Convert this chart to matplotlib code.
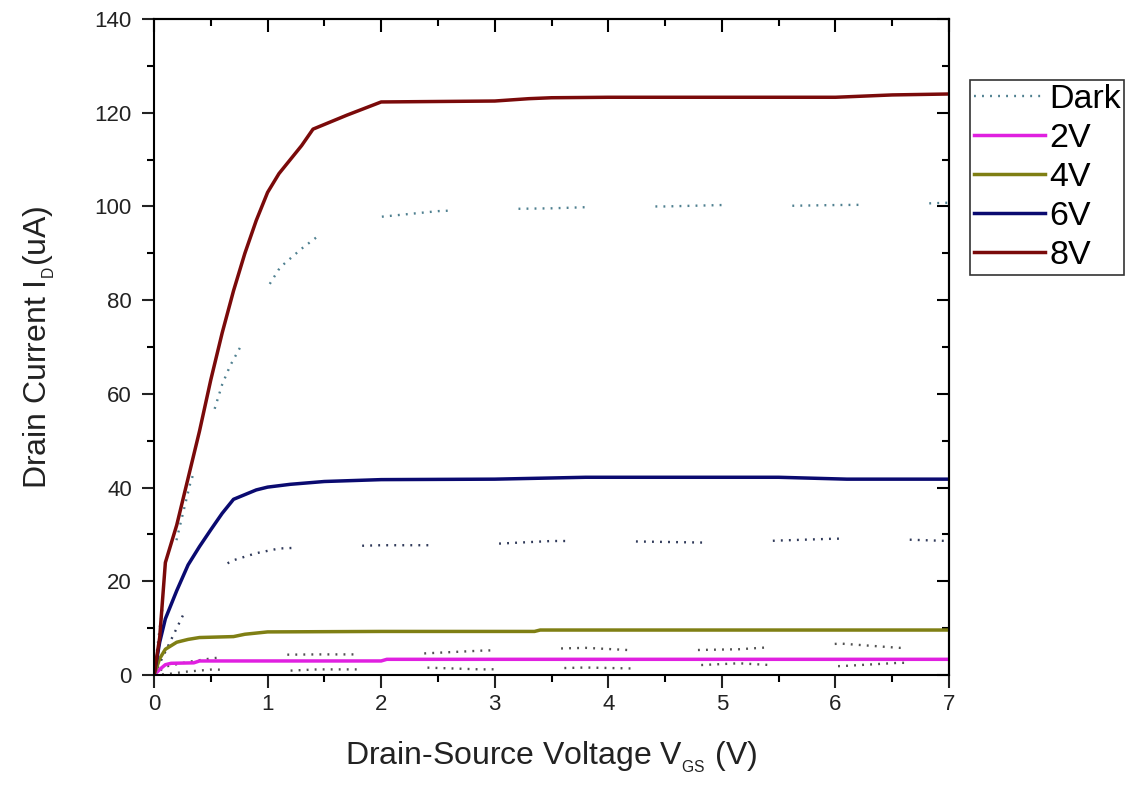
import numpy as np
import matplotlib.pyplot as plt

plt.rcParams['font.family'] = ['Liberation Sans', 'DejaVu Sans']
plt.rcParams['mathtext.fontset'] = 'custom'
plt.rcParams['mathtext.rm'] = 'Liberation Sans'
plt.rcParams['mathtext.it'] = 'Liberation Sans'

# curvas sob iluminação (Vgs = 2, 4, 6, 8 V)
v_2v = [0, 0.05, 0.1, 0.15, 0.35, 0.4, 2.0, 2.05, 7]
i_2v = [0, 1.2, 2.2, 2.5, 2.6, 3.0, 3.0, 3.35, 3.35]

v_4v = [0, 0.05, 0.1, 0.2, 0.3, 0.4, 0.7, 0.8, 1.0, 2.0, 3.35, 3.4, 7]
i_4v = [0, 3.5, 5.5, 7.0, 7.6, 8.0, 8.2, 8.7, 9.2, 9.3, 9.3, 9.6, 9.6]

v_6v = [0, 0.05, 0.1, 0.2, 0.3, 0.4, 0.5, 0.6, 0.7, 0.8, 0.9, 1.0, 1.2, 1.5,
        2.0, 3.0, 3.8, 4.5, 5.5, 6.1, 7]
i_6v = [0, 7, 12, 18, 23.5, 27.4, 31, 34.5, 37.5, 38.5, 39.5, 40.1, 40.7, 41.3,
        41.7, 41.8, 42.2, 42.2, 42.2, 41.8, 41.8]

v_8v = [0, 0.05, 0.1, 0.15, 0.2, 0.3, 0.4, 0.5, 0.6, 0.7, 0.8, 0.9, 1.0, 1.1,
        1.2, 1.3, 1.4, 1.5, 1.7, 2.0, 2.5, 3.0, 3.3, 3.5, 4, 5, 6, 6.5, 7]
i_8v = [0, 8, 24, 28, 32, 42, 52, 63, 73, 82, 90, 97, 103, 107,
        110, 113, 116.5, 117.5, 119.5, 122.3, 122.4, 122.5, 123, 123.2, 123.3,
        123.3, 123.3, 123.8, 124]

# curvas no escuro
v_d2 = [0, 0.12, 0.28, 0.52, 0.98, 1.44, 1.95, 2.37, 2.88, 3.3, 3.8, 4.2, 4.7,
        5.15, 5.6, 6.05, 6.56, 7]
i_d2 = [0, 0.2, 0.7, 1.2, 0.7, 1.2, 1.2, 1.6, 1.2, 1.3, 1.6, 1.4, 2.0,
        2.5, 1.9, 1.9, 2.6, 2.6]

v_d4 = [0, 0.1, 0.3, 0.52, 0.75, 0.98, 1.44, 1.95, 2.37, 2.88, 3.3, 3.8, 4.2,
        4.7, 5.15, 5.6, 6.05, 6.56, 7]
i_d4 = [0, 1.8, 2.8, 3.6, 4.0, 4.3, 4.4, 4.4, 4.6, 5.2, 5.5, 5.8, 5.3,
        5.3, 5.5, 6.2, 6.7, 5.8, 5.8]

v_d6 = [0, 0.1, 0.2, 0.3, 0.4, 0.5, 0.7, 0.9, 1.1, 1.4, 2.0, 2.5, 3.0, 3.5,
        4.0, 4.5, 5.0, 5.5, 6.0, 6.5, 7]
i_d6 = [0, 5, 10, 15, 19, 22, 24.5, 26, 27, 27.3, 27.7, 27.7, 28, 28.6,
        28.6, 28.4, 28.2, 28.7, 29.1, 29, 28.6]

v_d8 = [0, 0.05, 0.12, 0.18, 0.32, 0.46, 0.6, 0.67, 0.76, 0.93, 1.11, 1.3,
        1.57, 2.0, 2.5, 2.9, 3.5, 4, 4.5, 5, 5.5, 6, 6.5, 7]
i_d8 = [0, 10, 22, 27, 41, 51, 62, 66, 70, 80, 87, 91,
        96, 97.8, 99, 99.4, 99.6, 100, 100, 100.3, 100.1, 100.3, 100.4, 100.8]

fig = plt.figure(figsize=(11.4, 7.86), dpi=100)
ax = fig.add_axes([0.1351, 0.1412, 0.6974, 0.8346])

# padrão pontilhado com falhas (estilo Origin)
pont = (0, [0.8, 2.6] * 8 + [0.8, 30])
ax.plot(v_d8, i_d8, color='#4f8090', lw=1.7, linestyle=pont, label='Dark')
ax.plot(v_d6, i_d6, color='#303a5a', lw=1.7, linestyle=pont)
ax.plot(v_d4, i_d4, color='#505050', lw=1.7, linestyle=pont)
ax.plot(v_d2, i_d2, color='#505050', lw=1.7, linestyle=pont)

ax.plot(v_2v, i_2v, color='#e020e0', lw=2.5, label='2V')
ax.plot(v_4v, i_4v, color='#7f7f14', lw=2.5, label='4V')
ax.plot(v_6v, i_6v, color='#0a0a70', lw=2.5, label='6V')
ax.plot(v_8v, i_8v, color='#7a0a0a', lw=2.5, label='8V')

ax.set_xlim(0, 7)
ax.set_ylim(0, 140)
ax.set_xticks(np.arange(0, 8, 1))
ax.set_xticks(np.arange(0.5, 7, 1), minor=True)
ax.set_yticks(np.arange(0, 141, 20))
ax.set_yticks(np.arange(10, 140, 20), minor=True)

for s in ax.spines.values():
    s.set_linewidth(1.5)
ax.tick_params(which='major', direction='out', length=9, width=1.5,
               labelsize=16, colors='#222222')
ax.tick_params(axis='y', which='major', pad=7)
ax.tick_params(axis='x', which='major', pad=5)
ax.tick_params(which='minor', direction='out', length=5, width=1.5)

# eixos espelhados (topo e direita) com ticks para dentro
topo = ax.secondary_xaxis('top')
topo.set_xticks(np.arange(0, 8, 1))
topo.set_xticks(np.arange(0.5, 7, 1), minor=True)
topo.tick_params(which='major', direction='in', length=9, width=1.5, labeltop=False)
topo.tick_params(which='minor', direction='in', length=5, width=1.5)
topo.spines['top'].set_linewidth(1.5)

direita = ax.secondary_yaxis('right')
direita.set_yticks(np.arange(0, 141, 20))
direita.set_yticks(np.arange(10, 140, 20), minor=True)
direita.tick_params(which='major', direction='in', length=9, width=1.5, labelright=False)
direita.tick_params(which='minor', direction='in', length=5, width=1.5)
direita.spines['right'].set_linewidth(1.5)

ax.set_xlabel(r'Drain-Source Voltage V$_{_{\mathrm{GS}}}$ (V)', fontsize=23,
              color='#222222', labelpad=17)
ax.set_ylabel(r'Drain Current I$_{_{\mathrm{D}}}$(uA)', fontsize=23,
              color='#222222', labelpad=27)

leg = ax.legend(loc='upper left', bbox_to_anchor=(0.851, 0.898),
                bbox_transform=fig.transFigure, fontsize=24.5, frameon=True,
                fancybox=False, edgecolor='black', handlelength=2.1,
                handletextpad=0.12, labelspacing=0.24, borderpad=0.1,
                borderaxespad=0)
leg.get_frame().set_linewidth(1.2)

fig.savefig('out.png', dpi=100)
